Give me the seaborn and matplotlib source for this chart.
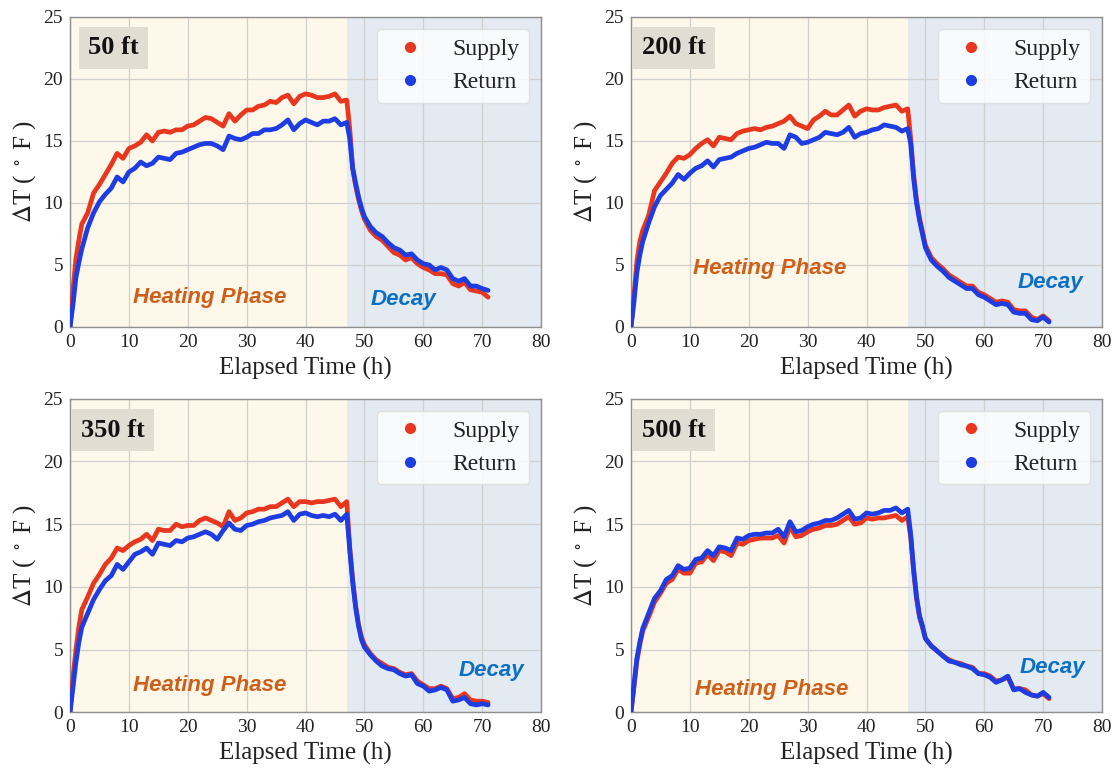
import matplotlib
matplotlib.use("Agg")
import matplotlib.pyplot as plt
from matplotlib.lines import Line2D
import seaborn as sns

# Sampling times (h) shared by all logged series
hours = [0, 0.5, 1, 1.5, 2,
         3, 4, 5, 6, 7, 8, 9, 10, 11, 12,
         13, 14, 15, 16, 17, 18, 19, 20, 21, 22,
         23, 24, 25, 26, 27, 28, 29, 30, 31, 32,
         33, 34, 35, 36, 37, 38, 39, 40, 41, 42,
         43, 44, 45, 46, 47,
         47.5, 48, 48.5, 49, 49.5,
         50, 51, 52, 53, 54, 55, 56, 57, 58, 59,
         60, 61, 62, 63, 64, 65, 66, 67, 68, 69, 70, 71]

heating_end = 47
depths = ["50 ft", "200 ft", "350 ft", "500 ft"]

supply_50 = [0, 3.0, 5.5, 7.0, 8.3,
             9.2, 10.8, 11.5, 12.3, 13.1, 14.0, 13.6, 14.4, 14.6, 14.9,
             15.5, 15.0, 15.7, 15.8, 15.7, 15.9, 15.9, 16.2, 16.3, 16.6,
             16.9, 16.8, 16.5, 16.2, 17.2, 16.6, 17.1, 17.5, 17.5, 17.8,
             17.9, 18.2, 18.1, 18.5, 18.7, 18.0, 18.6, 18.8, 18.7, 18.5,
             18.5, 18.6, 18.8, 18.2, 18.3,
             16.0, 12.8, 11.4, 10.3, 9.4,
             8.7, 7.8, 7.3, 7.0, 6.5, 6.0, 5.8, 5.4, 5.6, 5.1,
             4.8, 4.6, 4.3, 4.3, 4.2, 3.5, 3.3, 3.6, 3.0, 2.9, 2.8, 2.4]
return_50 = [0, 1.8, 4.0, 5.2, 6.3,
             8.0, 9.2, 10.1, 10.7, 11.2, 12.1, 11.7, 12.5, 12.8, 13.3,
             13.0, 13.2, 13.7, 13.6, 13.5, 14.0, 14.1, 14.3, 14.5, 14.7,
             14.8, 14.8, 14.6, 14.3, 15.4, 15.2, 15.1, 15.3, 15.6, 15.6,
             15.9, 15.9, 16.0, 16.3, 16.7, 15.9, 16.4, 16.7, 16.5, 16.3,
             16.6, 16.6, 16.8, 16.3, 16.5,
             15.2, 12.8, 11.6, 10.5, 9.6,
             8.9, 8.1, 7.6, 7.3, 6.8, 6.4, 6.2, 5.8, 5.9, 5.4,
             5.1, 5.0, 4.6, 4.8, 4.6, 3.9, 3.7, 3.9, 3.3, 3.3, 3.1, 2.95]

supply_200 = [0, 2.5, 5.3, 6.9, 7.8,
              9.0, 11.0, 11.7, 12.4, 13.2, 13.7, 13.6, 13.9, 14.4, 14.8,
              15.1, 14.6, 15.3, 15.2, 15.1, 15.6, 15.8, 15.9, 16.0, 15.9,
              16.1, 16.2, 16.4, 16.6, 17.0, 16.4, 16.2, 16.0, 16.7, 17.0,
              17.4, 17.1, 17.1, 17.5, 17.9, 17.0, 17.4, 17.6, 17.5, 17.5,
              17.7, 17.8, 17.9, 17.4, 17.6,
              15.2, 12.3, 10.2, 8.8, 7.7,
              6.6, 5.6, 5.1, 4.7, 4.2, 3.9, 3.6, 3.3, 3.3, 2.8,
              2.6, 2.3, 2.0, 2.1, 2.0, 1.4, 1.3, 1.3, 0.8, 0.6, 0.9, 0.5]
return_200 = [0, 2.0, 4.4, 5.8, 6.9,
              8.4, 9.7, 10.6, 11.1, 11.6, 12.3, 11.9, 12.4, 12.8, 13.0,
              13.4, 12.9, 13.5, 13.6, 13.7, 14.0, 14.2, 14.4, 14.5, 14.7,
              14.9, 14.8, 14.8, 14.4, 15.5, 15.3, 14.8, 14.9, 15.1, 15.3,
              15.7, 15.6, 15.5, 15.7, 16.1, 15.3, 15.6, 15.7, 15.9, 16.0,
              16.3, 16.2, 16.1, 15.8, 16.0,
              14.8, 12.0, 10.0, 8.6, 7.5,
              6.4, 5.4, 4.9, 4.5, 4.0, 3.7, 3.4, 3.1, 3.1, 2.6,
              2.4, 2.1, 1.8, 1.9, 1.8, 1.2, 1.1, 1.1, 0.6, 0.5, 0.8, 0.4]

supply_350 = [0, 2.8, 5.0, 6.8, 8.2,
              9.2, 10.3, 11.0, 11.8, 12.3, 13.1, 12.9, 13.3, 13.6, 13.8,
              14.2, 13.7, 14.6, 14.5, 14.5, 15.0, 14.8, 14.9, 14.9, 15.3,
              15.5, 15.3, 15.1, 14.8, 16.0, 15.3, 15.5, 15.9, 16.0, 16.2,
              16.2, 16.4, 16.4, 16.7, 17.0, 16.4, 16.8, 16.8, 16.7, 16.8,
              16.8, 16.9, 17.0, 16.4, 16.8,
              13.2, 10.6, 8.5, 7.0, 6.0,
              5.4, 4.7, 4.2, 3.9, 3.6, 3.5, 3.2, 3.0, 3.1, 2.5,
              2.2, 1.9, 1.9, 2.1, 1.9, 1.1, 1.2, 1.5, 1.0, 0.9, 0.9, 0.8]
return_350 = [0, 2.0, 4.0, 5.6, 6.8,
              7.9, 9.0, 9.8, 10.5, 10.9, 11.8, 11.4, 12.0, 12.6, 12.8,
              13.1, 12.6, 13.5, 13.4, 13.3, 13.7, 13.6, 13.9, 14.0, 14.2,
              14.4, 14.2, 13.8, 14.5, 15.1, 14.6, 14.5, 14.9, 15.0, 15.2,
              15.3, 15.5, 15.6, 15.7, 16.0, 15.3, 15.8, 15.9, 15.7, 15.6,
              15.7, 15.6, 15.8, 15.3, 15.8,
              13.0, 10.4, 8.4, 6.9, 5.8,
              5.2, 4.6, 4.1, 3.7, 3.5, 3.4, 3.1, 2.9, 3.0, 2.3,
              2.1, 1.7, 1.8, 2.0, 1.8, 0.9, 1.0, 1.2, 0.7, 0.6, 0.7, 0.6]

supply_500 = [0, 2.0, 4.1, 5.4, 6.5,
              7.6, 8.8, 9.5, 10.3, 10.6, 11.4, 11.1, 11.1, 11.9, 12.0,
              12.6, 12.1, 12.9, 12.8, 12.5, 13.5, 13.4, 13.7, 13.8, 13.9,
              13.9, 13.9, 14.1, 13.5, 14.8, 14.0, 14.1, 14.4, 14.6, 14.7,
              14.9, 14.9, 15.0, 15.3, 15.6, 15.0, 15.1, 15.5, 15.4, 15.5,
              15.5, 15.6, 15.7, 15.3, 15.6,
              14.0, 11.3, 9.1, 7.6, 6.8,
              5.9, 5.3, 4.9, 4.5, 4.2, 4.0, 3.9, 3.7, 3.6, 3.1,
              3.1, 2.9, 2.5, 2.6, 2.8, 1.9, 1.9, 1.8, 1.4, 1.3, 1.5, 1.1]
return_500 = [0, 2.2, 4.3, 5.6, 6.7,
              7.9, 9.1, 9.7, 10.6, 10.9, 11.7, 11.4, 11.5, 12.2, 12.3,
              12.9, 12.5, 13.2, 13.1, 12.9, 13.9, 13.8, 14.1, 14.2, 14.2,
              14.3, 14.3, 14.6, 14.0, 15.2, 14.4, 14.5, 14.8, 15.0, 15.1,
              15.3, 15.3, 15.5, 15.8, 16.1, 15.4, 15.5, 15.9, 15.8, 15.9,
              16.1, 16.1, 16.3, 15.9, 16.2,
              14.2, 11.4, 9.2, 7.7, 6.9,
              5.9, 5.3, 4.9, 4.5, 4.1, 4.0, 3.8, 3.7, 3.5, 3.1,
              3.0, 2.8, 2.4, 2.6, 2.9, 1.8, 1.9, 1.6, 1.4, 1.3, 1.6, 1.2]

supply_series = [supply_50, supply_200, supply_350, supply_500]
return_series = [return_50, return_200, return_350, return_500]

# Placement of the phase annotations in each panel (data coordinates)
heating_label_pos = [(23.8, 2.4), (23.6, 4.75), (23.8, 2.15), (23.9, 1.85)]
decay_label_pos = [(56.7, 2.2), (71.3, 3.55), (71.5, 3.35), (71.5, 3.6)]

supply_color = "#e8361f"
return_color = "#1d3de3"
heating_bg = "#fdf8ea"
decay_bg = "#e4eaf2"

sns.set_style("whitegrid")
plt.rcParams.update({
    "font.family": "serif",
    "font.serif": ["Liberation Serif", "DejaVu Serif"],
    "mathtext.fontset": "stix",
})

fig = plt.figure(figsize=(11.17, 7.69), dpi=100)
panel_rects = [
    [0.0627, 0.5748, 0.4217, 0.4031],
    [0.5649, 0.5748, 0.4217, 0.4031],
    [0.0627, 0.0735, 0.4217, 0.4080],
    [0.5649, 0.0735, 0.4217, 0.4080],
]

for i, rect in enumerate(panel_rects):
    ax = fig.add_axes(rect)
    ax.axvspan(0, heating_end, color=heating_bg, lw=0, zorder=0)
    ax.axvspan(heating_end, 80, color=decay_bg, lw=0, zorder=0)

    sns.lineplot(x=hours, y=supply_series[i], ax=ax, color=supply_color,
                 lw=3.4, zorder=3, legend=False)
    sns.lineplot(x=hours, y=return_series[i], ax=ax, color=return_color,
                 lw=3.4, zorder=4, legend=False)

    ax.set_xlim(0, 80)
    ax.set_ylim(0, 25)
    ax.set_xticks(range(0, 81, 10))
    ax.set_yticks(range(0, 26, 5))
    ax.grid(True, color="#cfcfcf", lw=0.9, zorder=0.5)
    for sp in ax.spines.values():
        sp.set_color("#8f8f8f")
        sp.set_linewidth(1.0)
    ax.tick_params(labelsize=14, length=0, pad=5, labelcolor="#222222")
    ax.set_xlabel("Elapsed Time (h)", fontsize=18, color="#222222", labelpad=4)
    ax.set_ylabel(r"$\Delta$T ( $^\circ$ F )", fontsize=18, color="#222222", labelpad=4)

    ax.text(0.092, 0.90, depths[i], transform=ax.transAxes, ha="center", va="center",
            fontsize=19, fontweight="bold", color="#111111", zorder=6,
            bbox=dict(boxstyle="square,pad=0.35", fc="#e1ddd3", ec="none"))

    hx, hy = heating_label_pos[i]
    ax.text(hx, hy, "Heating Phase", ha="center", va="center", fontsize=16,
            fontweight="bold", fontstyle="italic", family="Liberation Sans",
            color="#cf5f18", zorder=6)
    dx, dy = decay_label_pos[i]
    ax.text(dx, dy, "Decay", ha="center", va="center", fontsize=16,
            fontweight="bold", fontstyle="italic", family="Liberation Sans",
            color="#0a70c6", zorder=6)

    handles = [
        Line2D([], [], ls="none", marker="o", ms=7, color=supply_color, label="Supply"),
        Line2D([], [], ls="none", marker="o", ms=7, color=return_color, label="Return"),
    ]
    leg = ax.legend(handles=handles, loc="upper right", fontsize=17,
                    handlelength=2.0, handletextpad=0.8, borderpad=0.4,
                    labelspacing=0.5, frameon=True, framealpha=0.8,
                    facecolor="white", edgecolor="#dddddd")
    for t in leg.get_texts():
        t.set_color("#222222")

fig.savefig("out.png", dpi=100)
